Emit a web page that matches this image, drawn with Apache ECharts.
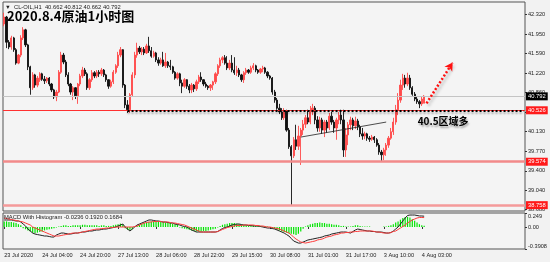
<!DOCTYPE html>
<html><head><meta charset="utf-8">
<script src="https://cdn.jsdelivr.net/npm/echarts@6/dist/echarts.min.js"></script>
<style>html,body{margin:0;padding:0;background:#f2f2f2}#c{width:550px;height:262px}</style>
</head><body><div id="c"></div>
<script>
const chartTitle = '2020.8.4原油1小时图';
const symbolName = 'CL-OIL,H1';
const lastBar = [40.662, 40.812, 40.662, 40.792];
const macdReadout = [-0.0236, 0.1920, 0.1684];
const timeLabels = ['23 Jul 2020','24 Jul 04:00','24 Jul 20:00','27 Jul 13:00','28 Jul 06:00','28 Jul 22:00','29 Jul 15:00','30 Jul 08:00','31 Jul 01:00','31 Jul 17:00','3 Aug 10:00','4 Aug 03:00'];
const labelStep = 16;
const slotCount = 220;
const priceTicks = [38.680, 39.040, 39.400, 39.770, 40.130, 40.500, 40.860, 41.220, 41.590, 41.950, 42.320];
const macdTicks = [-0.3908, 0, 0.249];
const macdTickLabels = ['-0.3908', '0.00', '0.249'];
const levelValues = [40.792, 40.526, 39.574, 38.758];
const supportLevel = 40.52;
const supportFrom = 52, supportTo = 219;
const arrowFrom = [178, 40.66], arrowTo = [189, 41.42];
const strokeFrom = [125, 40.03], strokeTo = [161, 40.31];
const noteText = '40.5区域多';
const notePos = [185, 40.33];

// [open, close, low, high]
const ohlc = [
[42.14,42.27,42.10,42.35],[42.27,41.80,41.69,42.29],[41.80,41.71,41.67,41.84],[41.71,41.88,41.66,41.92],
[41.88,41.66,41.62,41.90],[41.66,41.41,41.38,41.69],[41.41,41.56,41.39,41.58],[41.56,41.88,41.52,41.93],
[41.88,42.03,41.84,42.08],[42.03,41.75,41.71,42.05],[41.75,41.34,41.28,41.77],[41.34,40.95,40.82,41.36],
[40.95,41.19,40.91,41.24],[41.19,41.00,40.95,41.21],[41.00,41.13,40.96,41.17],[41.10,41.21,41.06,41.24],
[41.21,41.11,41.08,41.23],[41.11,41.08,41.02,41.17],[41.08,41.13,41.04,41.15],[41.13,41.02,40.98,41.15],
[41.02,40.91,40.87,41.04],[40.91,40.78,40.74,40.93],[40.78,40.87,40.70,40.91],[40.87,41.24,40.85,41.28],
[41.24,41.56,41.21,41.62],[41.56,41.43,41.39,41.60],[41.43,41.19,41.15,41.47],[41.19,41.02,40.98,41.24],
[41.02,40.87,40.82,41.04],[40.87,40.95,40.72,40.98],[40.95,40.80,40.74,40.96],[40.80,41.02,40.65,41.04],
[41.02,41.17,40.98,41.21],[41.17,41.28,41.13,41.34],[41.28,41.21,41.17,41.32],[41.21,40.95,40.91,41.24],
[40.95,41.10,40.91,41.13],[41.10,41.23,41.06,41.28],[41.23,41.17,41.13,41.26],[41.17,41.24,41.13,41.28],
[41.24,41.21,41.15,41.28],[41.21,41.28,41.17,41.32],[41.28,41.19,41.15,41.30],[41.19,41.10,41.06,41.21],
[41.10,40.98,40.93,41.11],[40.98,41.06,40.95,41.10],[41.06,41.24,41.02,41.28],[41.24,41.36,41.21,41.39],
[41.36,41.56,41.32,41.62],[41.56,41.66,41.52,41.71],[41.66,41.00,40.95,41.67],[41.00,40.63,40.57,41.02],
[40.63,40.54,40.48,40.72],[40.54,40.82,40.48,40.85],[40.82,41.19,40.78,41.24],[41.19,41.56,41.13,41.62],
[41.56,41.69,41.51,41.79],[41.69,41.62,41.58,41.73],[41.62,41.67,41.56,41.71],[41.67,41.60,41.56,41.71],
[41.60,41.73,41.58,41.77],[41.73,41.64,41.60,41.90],[41.64,41.54,41.51,41.71],[41.54,41.60,41.51,41.64],
[41.60,41.47,41.43,41.62],[41.47,41.41,41.36,41.52],[41.41,41.47,41.38,41.51],[41.47,41.36,41.34,41.62],
[41.36,41.43,41.32,41.60],[41.43,41.36,41.32,41.45],[41.36,41.34,41.28,41.47],[41.34,41.24,41.21,41.36],
[41.24,41.13,41.10,41.26],[41.13,41.21,41.10,41.24],[41.21,41.04,40.98,41.23],[41.04,40.98,40.85,41.10],
[40.98,41.10,40.95,41.13],[41.10,40.98,40.93,41.11],[40.98,40.91,40.85,41.02],[40.91,41.00,40.85,41.04],
[41.00,40.93,40.87,41.02],[40.93,41.06,40.89,41.10],[41.06,41.15,41.02,41.19],[41.15,41.10,41.06,41.24],
[41.10,41.02,40.98,41.11],[41.02,40.98,40.95,41.06],[40.98,40.95,40.91,41.00],[40.95,41.00,40.89,41.02],
[41.00,41.06,40.91,41.08],[41.06,41.21,41.02,41.24],[41.21,41.36,41.17,41.39],[41.36,41.47,41.32,41.51],
[41.47,41.51,41.41,41.54],[41.51,41.41,41.38,41.56],[41.41,41.32,41.28,41.54],[41.32,41.41,41.28,41.47],
[41.41,41.28,41.24,41.56],[41.28,41.23,41.19,41.52],[41.23,41.28,41.17,41.36],[41.28,41.19,41.15,41.32],
[41.19,41.10,41.06,41.21],[41.10,41.23,41.04,41.26],[41.23,41.28,41.19,41.32],[41.28,41.24,41.21,41.30],
[41.24,41.32,41.21,41.36],[41.32,41.36,41.28,41.41],[41.36,41.28,41.24,41.38],[41.28,41.24,41.21,41.30],
[41.24,41.30,41.21,41.32],[41.30,41.32,41.24,41.36],[41.32,41.24,41.21,41.34],[41.24,41.17,41.13,41.26],
[41.17,41.13,41.10,41.19],[41.13,40.87,40.82,41.15],[40.87,40.72,40.67,40.91],[40.72,40.57,40.54,40.76],
[40.57,40.50,40.46,40.65],[40.50,40.39,40.35,40.57],[40.39,40.52,40.35,40.57],[40.52,40.16,40.13,40.54],
[40.16,39.85,39.81,40.20],[39.85,39.68,38.758,39.88],[39.68,39.98,39.64,40.03],[39.98,39.86,39.79,40.26],
[39.86,40.05,39.79,40.24],[40.05,40.16,39.51,40.20],[40.16,40.27,40.07,40.35],[40.27,40.39,40.20,40.44],
[40.39,40.31,40.27,40.54],[40.31,40.50,40.27,40.61],[40.50,40.57,40.44,40.65],[40.57,40.35,40.27,40.61],
[40.35,40.20,40.13,40.42],[40.20,40.35,40.13,40.41],[40.35,40.16,40.09,40.39],[40.16,40.31,40.03,40.35],
[40.31,40.20,40.11,40.35],[40.20,40.42,40.16,40.48],[40.42,40.31,40.26,40.50],[40.31,40.20,40.11,40.35],
[40.20,40.35,39.98,40.39],[40.35,40.44,40.27,40.50],[40.44,40.35,40.27,40.54],[40.35,39.79,39.66,40.54],
[39.79,40.07,39.66,40.20],[40.07,40.26,39.88,40.31],[40.26,40.35,40.16,40.41],[40.35,40.24,40.16,40.39],
[40.24,40.33,40.18,40.41],[40.33,40.22,40.16,40.37],[40.22,40.09,40.03,40.26],[40.09,40.05,39.98,40.20],
[40.05,40.09,39.99,40.13],[40.09,40.01,39.96,40.11],[40.01,39.99,39.94,40.05],[39.99,40.03,39.96,40.07],
[40.03,39.98,39.92,40.05],[39.98,39.88,39.85,40.01],[39.88,39.75,39.70,39.92],[39.75,39.70,39.57,39.79],
[39.70,39.79,39.60,39.83],[39.79,39.88,39.68,39.92],[39.88,40.01,39.83,40.05],[40.01,40.13,39.98,40.20],
[40.13,40.31,40.07,40.39],[40.31,40.54,40.26,40.63],[40.54,40.72,40.44,40.85],[40.72,41.00,40.67,41.10],
[41.00,41.13,40.91,41.21],[41.13,41.02,40.95,41.19],[41.02,41.13,40.98,41.23],[41.13,40.95,40.91,41.19],
[40.95,40.83,40.80,40.98],[40.83,40.74,40.70,40.87],[40.74,40.69,40.65,40.78],[40.69,40.65,40.57,40.72],
[40.65,40.74,40.61,40.78],[40.662,40.792,40.662,40.812]
];

const macdLine = [
0.125,0.125,0.125,0.125,0.116,0.107,0.107,0.089,
0.053,0.018,-0.036,-0.071,-0.107,-0.125,-0.134,-0.142,
-0.151,-0.160,-0.160,-0.169,-0.178,-0.178,-0.142,-0.125,
-0.107,-0.107,-0.116,-0.125,-0.125,-0.116,-0.107,-0.107,
-0.098,-0.089,-0.089,-0.080,-0.071,-0.071,-0.062,-0.053,
-0.053,-0.044,-0.036,-0.036,-0.027,-0.018,-0.009,0.000,
0.018,0.036,0.053,0.000,-0.036,-0.071,-0.036,0.000,
0.036,0.053,0.071,0.089,0.107,0.125,0.125,0.116,
0.107,0.107,0.098,0.089,0.089,0.080,0.071,0.071,
0.053,0.044,0.036,0.018,0.009,0.000,-0.027,-0.053,
-0.071,-0.089,-0.089,-0.089,-0.089,-0.089,-0.089,-0.089,
-0.089,-0.089,-0.080,-0.053,-0.027,-0.009,0.000,0.018,
0.036,0.044,0.053,0.053,0.044,0.036,0.036,0.027,
0.027,0.018,0.018,0.018,0.009,0.000,-0.009,-0.018,
-0.018,-0.027,-0.036,-0.053,-0.071,-0.089,-0.107,-0.134,
-0.160,-0.205,-0.249,-0.267,-0.285,-0.285,-0.267,-0.249,
-0.231,-0.222,-0.214,-0.205,-0.196,-0.187,-0.178,-0.160,
-0.151,-0.142,-0.125,-0.116,-0.107,-0.098,-0.089,-0.089,
-0.089,-0.098,-0.107,-0.080,-0.053,-0.036,-0.044,-0.053,
-0.062,-0.071,-0.071,-0.080,-0.080,-0.089,-0.089,-0.089,
-0.098,-0.107,-0.107,-0.098,-0.071,-0.036,0.000,0.053,
0.107,0.160,0.205,0.213,0.213,0.213,0.205,0.196,
0.196,0.192
];

const signalLine = [
0.160,0.151,0.142,0.134,0.125,0.116,0.107,0.098,
0.089,0.071,0.053,0.036,0.000,-0.018,-0.036,-0.053,
-0.071,-0.089,-0.107,-0.125,-0.142,-0.160,-0.160,-0.160,
-0.151,-0.142,-0.134,-0.125,-0.116,-0.107,-0.107,-0.107,
-0.098,-0.089,-0.080,-0.071,-0.062,-0.053,-0.044,-0.036,
-0.036,-0.027,-0.027,-0.018,-0.018,-0.009,-0.009,0.000,
0.000,0.000,0.000,0.000,0.000,0.000,0.000,0.009,
0.018,0.036,0.053,0.071,0.080,0.089,0.089,0.098,
0.098,0.098,0.098,0.089,0.089,0.089,0.080,0.071,
0.071,0.062,0.053,0.044,0.036,0.018,0.000,-0.018,
-0.036,-0.053,-0.071,-0.089,-0.089,-0.089,-0.089,-0.089,
-0.089,-0.089,-0.080,-0.062,-0.044,-0.027,-0.009,0.000,
0.009,0.018,0.027,0.027,0.027,0.036,0.036,0.036,
0.036,0.036,0.027,0.027,0.018,0.018,0.009,0.000,
0.000,-0.009,-0.018,-0.027,-0.036,-0.053,-0.071,-0.089,
-0.107,-0.142,-0.178,-0.214,-0.240,-0.267,-0.276,-0.285,
-0.276,-0.267,-0.258,-0.249,-0.231,-0.222,-0.214,-0.196,
-0.178,-0.169,-0.160,-0.142,-0.134,-0.125,-0.107,-0.107,
-0.098,-0.098,-0.089,-0.089,-0.080,-0.080,-0.071,-0.071,
-0.071,-0.071,-0.071,-0.071,-0.080,-0.089,-0.089,-0.098,
-0.107,-0.107,-0.107,-0.098,-0.080,-0.071,-0.044,-0.018,
0.009,0.036,0.071,0.098,0.125,0.142,0.160,0.169,
0.169,0.168
];

const histogram = [
0.10,0.10,0.09,0.09,0.08,0.07,0.05,0.03,
-0.02,-0.04,-0.06,-0.08,-0.10,-0.11,-0.10,-0.09,-0.08,
-0.06,-0.05,-0.04,-0.03,-0.02,-0.01,0.01,0.02,
0.03,0.03,0.02,0.02,0.03,0.03,0.03,0.03,0.04,0.04,0.03,0.03,0.03,0.03,0.03,0.02,0.03,0.03,0.02,0.02,0.02,0.03,0.04,0.05,
0.06,0.05,
-0.02,-0.05,-0.06,-0.04,
0.00,0.02,0.04,0.06,0.07,0.08,0.09,0.10,0.10,0.10,0.10,0.09,0.09,0.08,0.08,0.07,0.06,0.05,0.04,
-0.01,-0.02,-0.03,-0.04,-0.05,-0.06,-0.07,-0.08,-0.08,-0.08,-0.07,-0.07,-0.06,-0.05,-0.04,-0.03,-0.01,
0.02,0.04,0.05,0.06,0.07,0.07,0.07,0.06,0.05,0.04,
0.03,0.03,0.02,0.02,0.03,0.02,0.02,0.02,0.01,0.01,0.01,0.00,
-0.02,-0.03,-0.05,-0.06,-0.08,-0.09,-0.10,-0.11,-0.12,-0.13,-0.14,-0.12,-0.08,
-0.03,0.01,0.03,0.05,0.06,0.07,0.07,0.08,0.07,0.07,0.06,0.06,0.05,0.04,0.04,
0.03,0.02,0.02,0.01,0.01,0.01,0.02,0.03,0.03,0.02,0.01,0.01,0.01,0.01,0.00,0.00,0.00,0.00,0.00,0.01,0.01,0.02,0.03,
0.05,0.08,0.10,0.13,0.16,0.18,0.18,0.17,0.14,0.11,0.08,0.05,0.03,0.024
];

const categories = Array.from({length: slotCount}, (_, i) => String(i));
const latin = '"Liberation Sans", Arial, sans-serif';
const cjk = '"Noto Sans CJK SC", sans-serif';
const showTimeLabel = (idx) => idx % labelStep === 0 && idx / labelStep < timeLabels.length;

const levelStyles = [
  {line: {color: '#c4c4c4', width: 1, type: 'solid'}, bg: '#000000'},
  {line: {color: '#ff3030', width: 1, type: 'solid'}, bg: '#ff1a1a'},
  {line: {color: '#f28a8a', width: 2.5, type: 'solid'}, bg: '#ff1a1a'},
  {line: {color: '#f59a9a', width: 2.5, type: 'solid'}, bg: '#ff1a1a'}
];

const levelLines = levelValues.map((v, k) => ({
  yAxis: v,
  lineStyle: levelStyles[k].line,
  label: {show: true, position: 'end', distance: 1, formatter: v.toFixed(3),
    backgroundColor: levelStyles[k].bg, color: '#fff', fontSize: 5.8, fontFamily: latin,
    padding: [1, 2, 1, 2]}
}));

const chart = echarts.init(document.getElementById('c'), null, {renderer: 'canvas'});
chart.setOption({
  animation: false,
  backgroundColor: '#f2f2f2',
  title: [
    {text: chartTitle, left: 7, top: 10, padding: 0,
     textStyle: {fontFamily: cjk, fontSize: 13, fontWeight: 'bold', color: '#000'}},
    {text: '▼  ' + symbolName + '  ' + lastBar.map(v => v.toFixed(3)).join(' '), left: 5, top: 4, padding: 0,
     textStyle: {fontFamily: latin, fontSize: 5.8, fontWeight: 'normal', color: '#222'}},
    {text: 'MACD With Histogram ' + macdReadout.map(v => v.toFixed(4)).join(' '), left: 4, top: 214, padding: 0,
     textStyle: {fontFamily: latin, fontSize: 5.8, fontWeight: 'normal', color: '#222'}}
  ],
  grid: [
    {left: 3, right: 25, top: 2, height: 209, show: true, borderColor: '#555', borderWidth: 1, backgroundColor: '#f4f4f4', containLabel: false},
    {left: 3, right: 25, top: 213, height: 36, show: true, borderColor: '#555', borderWidth: 1, backgroundColor: '#f4f4f4', containLabel: false}
  ],
  xAxis: [
    {type: 'category', gridIndex: 0, data: categories, boundaryGap: true,
     axisLine: {show: false}, axisTick: {show: false}, axisLabel: {show: false}, splitLine: {show: false}},
    {type: 'category', gridIndex: 1, data: categories, boundaryGap: true,
     axisLine: {show: false},
     axisTick: {show: true, interval: showTimeLabel, alignWithLabel: true, length: 2, lineStyle: {color: '#333'}},
     axisLabel: {show: true, interval: showTimeLabel, formatter: (val, idx) => timeLabels[idx / labelStep],
       align: 'left', fontSize: 5.6, fontFamily: latin, color: '#222', margin: 3},
     splitLine: {show: false}}
  ],
  yAxis: [
    {type: 'value', gridIndex: 0, position: 'right', min: 38.651, max: 42.55, scale: true,
     axisLine: {show: false}, splitLine: {show: false},
     axisTick: {show: true, length: 2, customValues: priceTicks, lineStyle: {color: '#333'}},
     axisLabel: {customValues: priceTicks, formatter: v => v.toFixed(3), fontSize: 5.6, fontFamily: latin, color: '#222', margin: 3}},
    {type: 'value', gridIndex: 1, position: 'right', min: macdTicks[0], max: macdTicks[2],
     axisLine: {show: false}, splitLine: {show: false},
     axisTick: {show: true, length: 2, customValues: macdTicks, lineStyle: {color: '#333'}},
     axisLabel: {customValues: macdTicks, formatter: v => macdTickLabels[macdTicks.indexOf(v)],
       fontSize: 5.6, fontFamily: latin, color: '#222', margin: 3,
       verticalAlignMinLabel: 'bottom', verticalAlignMaxLabel: 'top'}}
  ],
  series: [
    {type: 'candlestick', xAxisIndex: 0, yAxisIndex: 0, data: ohlc, barWidth: 1.8,
     itemStyle: {color: '#ff4a4a', color0: '#111', borderColor: '#ff4a4a', borderColor0: '#111', borderWidth: 0.9},
     markLine: {
       silent: true, symbol: ['none', 'none'], animation: false,
       data: levelLines.concat([
         [{coord: [supportFrom, supportLevel], symbol: 'none',
           lineStyle: {color: '#000', width: 2, type: [2, 2], shadowColor: 'rgba(0,0,0,0.35)', shadowBlur: 2, shadowOffsetY: 2},
           label: {show: false}},
          {coord: [supportTo, supportLevel], symbol: 'none'}],
         [{coord: strokeFrom, symbol: 'none',
           lineStyle: {color: '#222', width: 0.8, type: 'solid'},
           label: {show: false}},
          {coord: strokeTo, symbol: 'none'}],
         [{coord: arrowFrom, symbol: 'none',
           lineStyle: {color: '#ff1010', width: 2.5, type: [2, 2], shadowColor: 'rgba(0,0,0,0.3)', shadowBlur: 3, shadowOffsetX: 2, shadowOffsetY: 2},
           label: {show: false}},
          {coord: arrowTo, symbol: 'arrow', symbolSize: [7, 8]}]
       ])
     },
     markPoint: {
       silent: true, animation: false,
       data: [{coord: notePos, symbol: 'circle', symbolSize: 1, itemStyle: {color: 'rgba(0,0,0,0)'},
         label: {show: true, position: 'inside', formatter: noteText, fontFamily: cjk, fontSize: 10, fontWeight: 'bold', color: '#000',
           textShadowColor: 'rgba(0,0,0,0.35)', textShadowBlur: 2, textShadowOffsetX: 1, textShadowOffsetY: 2}}]
     }
    },
    {type: 'bar', xAxisIndex: 1, yAxisIndex: 1, data: histogram, barWidth: 1.2, itemStyle: {color: '#00e600'}, silent: true},
    {type: 'line', xAxisIndex: 1, yAxisIndex: 1, data: macdLine, symbol: 'none', lineStyle: {color: '#222', width: 1}, silent: true},
    {type: 'line', xAxisIndex: 1, yAxisIndex: 1, data: signalLine, symbol: 'none', lineStyle: {color: '#ff3c3c', width: 1}, silent: true}
  ]
});
</script>
</body></html>
